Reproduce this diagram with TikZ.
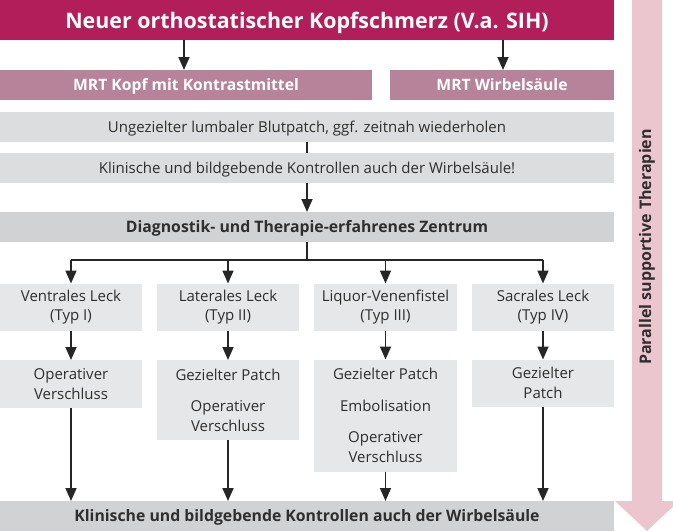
\documentclass[tikz,border=0pt]{standalone}
\usepackage{fontspec}
\setmainfont{Open Sans}
\usetikzlibrary{arrows.meta}
\definecolor{headc}{HTML}{B21E5A}
\definecolor{mauve}{HTML}{B7839B}
\definecolor{greyA}{HTML}{DCDDDE}
\definecolor{greyB}{HTML}{D1D2D4}
\definecolor{greyC}{HTML}{E6E7E8}
\definecolor{pinkc}{HTML}{EBC6CE}
\definecolor{txt}{HTML}{2E2E2E}
\tikzset{
  base/.style={inner sep=0pt, outer sep=0pt, align=center, text=txt,
    font=\fontsize{15}{19.5}\selectfont},
  single/.style={text height=13pt, text depth=1.5pt},
  headbox/.style={base, single, fill=headc, text=white, minimum width=614pt, minimum height=40pt,
    font=\fontsize{21.4}{24}\selectfont\bfseries, text height=18pt, text depth=2pt},
  mrtbox/.style={base, single, fill=mauve, text=white, minimum height=30pt,
    font=\fontsize{15.7}{18}\selectfont\bfseries},
  rowbox/.style={base, single, fill=greyA, minimum width=614pt, minimum height=30pt},
  boldrow/.style={base, single, fill=greyB, minimum width=614pt, minimum height=30pt,
    font=\fontsize{15.8}{18}\selectfont\bfseries},
  leakbox/.style={base, fill=greyC, minimum width=142pt},
  conn/.style={line width=1.7pt, black!85},
  arr/.style={conn, -{Triangle[width=11pt,length=13pt]}},
}
\begin{document}
\begin{tikzpicture}[x=1pt,y=-1pt]
\useasboundingbox (0,0) rectangle (673,531);
\clip (0,0) rectangle (673,531);
% side arrow
\fill[pinkc] (632,0) -- (662,0) -- (662,501) -- (679,501) -- (647,531) -- (615,501) -- (632,501) -- cycle;
\node[base, rotate=90, font=\fontsize{16}{18}\selectfont\bfseries] (side) at (647,247) {Parallel supportive Therapien};
% boxes
\node[headbox] (head) at (307,20) {Neuer orthostatischer Kopfschmerz (V.a. SIH)};
\node[mrtbox, minimum width=372pt] (mrtk) at (186,85) {MRT Kopf mit Kontrastmittel};
\node[mrtbox, minimum width=224pt] (mrtw) at (502,85) {MRT Wirbelsäule};
\node[rowbox] (ung) at (307,127) {Ungezielter lumbaler Blutpatch, ggf. zeitnah wiederholen};
\node[rowbox] (kon) at (307,168) {Klinische und bildgebende Kontrollen auch der Wirbelsäule!};
\node[boldrow] (zent) at (307,227) {Diagnostik- und Therapie-erfahrenes Zentrum};
\node[leakbox, minimum height=47pt] (l1) at (71,307) {Ventrales Leck\\(Typ I)};
\node[leakbox, minimum height=47pt] (l2) at (228,307) {Laterales Leck\\(Typ II)};
\node[leakbox, minimum height=47pt, minimum width=143pt] (l3) at (385.5,307) {Liquor-Venenfistel\\(Typ III)};
\node[leakbox, minimum height=47pt] (l4) at (543,307) {Sacrales Leck\\(Typ IV)};
\node[leakbox, minimum height=48pt] (t1) at (71,384) {Operativer\\Verschluss};
\node[leakbox, minimum height=80pt] (t2) at (228,400) {Gezielter Patch\\[12pt]Operativer\\Verschluss};
\node[leakbox, minimum height=112pt, minimum width=143pt] (t3) at (385.5,415.5) {Gezielter Patch\\[12pt]Embolisation\\[12pt]Operativer\\Verschluss};
\node[leakbox, minimum height=47pt] (t4) at (543,383) {Gezielter\\Patch};
\node[boldrow] (bot) at (307,516) {Klinische und bildgebende Kontrollen auch der Wirbelsäule};
% connectors
\draw[arr] (head.south -| 184,0) -- (mrtk.north -| 184,0);
\draw[arr] (head.south -| 503,0) -- (mrtw.north -| 503,0);
\draw[conn] (ung.south) -- (kon.north);
\draw[arr] (kon.south) -- (zent.north);
\coordinate (br) at (307,260);
\draw[conn] (zent.south) -- (br);
\draw[conn] (br -| l1.north) -- (br -| l4.north);
\foreach \n in {l1,l2,l3,l4} {\draw[arr] (br -| \n.north) -- (\n.north);}
\draw[arr] (l1) -- (t1);
\draw[arr] (l2) -- (t2);
\draw[arr] (l3) -- (t3);
\draw[arr] (l4) -- (t4);
\foreach \n in {t1,t2,t3,t4} {\draw[arr] (\n.south) -- (bot.north -| \n.south);}
\end{tikzpicture}
\end{document}
